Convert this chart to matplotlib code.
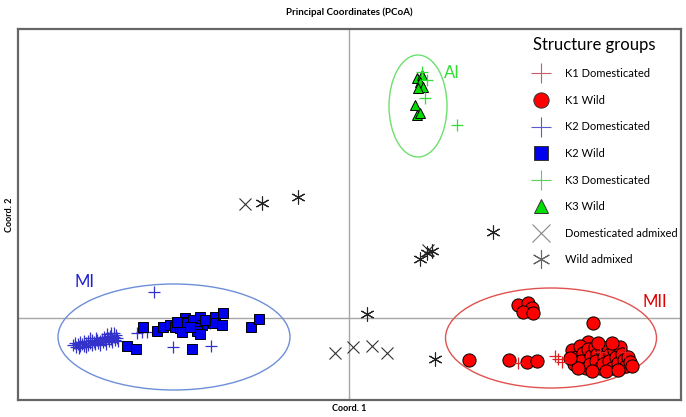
import matplotlib
matplotlib.use("Agg")
import matplotlib.pyplot as plt
from matplotlib.lines import Line2D
from matplotlib.patches import Ellipse

plt.rcParams['font.family'] = ['Lato', 'DejaVu Sans']

# ---- data (Coord. 1, Coord. 2) ----
k2_wild_x = [-2.06, -1.92, -2.22, -2.13, -1.86, -1.79, -1.74, -1.69, -1.64, -1.61, -1.56, -1.49, -1.47,
             -1.52, -1.66, -1.67, -1.52, -1.49, -1.57, -1.34, -1.26, -1.36, -1.27, -0.98, -0.90, -1.72,
             -1.59, -1.44]
k2_wild_y = [-0.09, -0.13, -0.28, -0.31, -0.09, -0.07, -0.09, -0.10, 0.00, -0.04, -0.02, 0.01, -0.07,
             -0.10, -0.05, -0.14, -0.13, -0.16, -0.31, 0.01, 0.05, -0.05, -0.07, -0.09, -0.01, -0.04,
             -0.09, -0.02]

k2_dom_x = [-1.95, -1.76, -1.38, -2.12, -2.07, -2.02, -1.39,
            -2.76, -2.74, -2.73, -2.71, -2.69, -2.69, -2.67, -2.65, -2.65, -2.63, -2.61, -2.61, -2.59,
            -2.57, -2.57, -2.55, -2.54, -2.52, -2.51, -2.49, -2.49, -2.47, -2.46, -2.44, -2.43, -2.41,
            -2.40, -2.39, -2.38, -2.37, -2.35, -2.34, -2.33, -2.32, -2.31, -2.42, -2.38, -2.35, -2.45,
            -2.53, -2.59, -2.63, -2.70]
k2_dom_y = [0.26, -0.29, -0.28, -0.15, -0.14, -0.14, -0.05,
            -0.27, -0.25, -0.29, -0.26, -0.24, -0.28, -0.26, -0.23, -0.28, -0.25, -0.27, -0.23, -0.25,
            -0.22, -0.27, -0.24, -0.26, -0.22, -0.25, -0.23, -0.27, -0.21, -0.24, -0.22, -0.26, -0.20,
            -0.23, -0.18, -0.21, -0.24, -0.19, -0.22, -0.17, -0.20, -0.23, -0.16, -0.15, -0.15, -0.19,
            -0.20, -0.20, -0.29, -0.30]

k1_wild_x = [1.69, 1.79, 1.83, 1.74, 1.84, 2.44, 1.20, 1.60, 1.78, 1.88, 2.39,
             2.23, 2.27, 2.25, 2.31, 2.34, 2.32, 2.37, 2.39, 2.42, 2.41, 2.46, 2.48, 2.47, 2.51,
             2.53, 2.55, 2.54, 2.59, 2.61, 2.60, 2.63, 2.65, 2.67, 2.69, 2.71, 2.73, 2.75, 2.77,
             2.79, 2.81, 2.83, 2.29, 2.43, 2.57, 2.69, 2.49, 2.63, 2.21]
k1_wild_y = [0.13, 0.15, 0.10, 0.06, 0.05, -0.05, -0.42, -0.42, -0.44, -0.43, -0.24,
             -0.32, -0.39, -0.46, -0.28, -0.35, -0.43, -0.50, -0.31, -0.38, -0.46, -0.29, -0.36, -0.43, -0.50,
             -0.32, -0.39, -0.46, -0.29, -0.36, -0.43, -0.50, -0.32, -0.39, -0.45, -0.29, -0.36, -0.42, -0.48,
             -0.39, -0.44, -0.48, -0.50, -0.53, -0.53, -0.52, -0.25, -0.25, -0.40]

k1_dom_x = [1.69, 2.06, 2.09, 2.13, 2.51, 2.76]
k1_dom_y = [-0.45, -0.38, -0.41, -0.44, -0.34, -0.34]

k3_wild_x = [0.68, 0.73, 0.71, 0.74, 0.69, 0.66, 0.68, 0.71]
k3_wild_y = [2.40, 2.43, 2.36, 2.31, 2.30, 2.13, 2.03, 2.05]

k3_dom_x = [0.76, 1.08, 0.73, 0.78]
k3_dom_y = [2.20, 1.93, 2.46, 2.38]

dom_adm_x = [-1.04, -0.14, 0.04, 0.23, 0.38, 0.79]
dom_adm_y = [1.14, -0.35, -0.29, -0.28, -0.35, 0.68]

wild_adm_x = [-0.87, -0.51, 1.44, 0.18, 0.86, 0.71, 0.78, 0.83]
wild_adm_y = [1.15, 1.21, 0.86, 0.04, -0.41, 0.59, 0.65, 0.67]

# group ellipses: label, center x, center y, width, height
group_names = ['MI', 'MII', 'AI']
group_cx = [-1.75, 2.02, 0.69]
group_cy = [-0.19, -0.20, 2.12]
group_w = [2.32, 2.11, 0.58]
group_h = [1.06, 1.00, 1.02]
group_label_x = [-2.64, 3.06, 1.03]
group_label_y = [0.36, 0.16, 2.45]

legend_labels = ['K1 Domesticated', 'K1 Wild', 'K2 Domesticated', 'K2 Wild',
                 'K3 Domesticated', 'K3 Wild', 'Domesticated admixed', 'Wild admixed']

# ---- figure ----
fig = plt.figure(figsize=(6.86, 4.17), dpi=100)
ax = fig.add_axes([18/686, 1-400/417, 663/686, 371/417])
ax.set_xlim(-3.31, 3.32)
ax.set_ylim(-0.82, 2.89)
ax.set_xticks([])
ax.set_yticks([])
for s in ax.spines.values():
    s.set_color('#666666')
    s.set_linewidth(1.6)

ax.axhline(0, color='#a6a6a6', lw=1.0, zorder=1)
ax.axvline(0, color='#a6a6a6', lw=1.0, zorder=1)

ell_colors = ['#6d8fd8', '#e0524f', '#6ee06e']
lab_colors = ['#2020d0', '#e00000', '#33dd33']
for i in range(3):
    ax.add_patch(Ellipse((group_cx[i], group_cy[i]), group_w[i], group_h[i],
                         fill=False, edgecolor=ell_colors[i], lw=1.0, zorder=2))
    ax.text(group_label_x[i], group_label_y[i], group_names[i], color=lab_colors[i],
            fontsize=12, ha='center', va='center')

blue = '#0000ee'
red = '#ff0000'
green = '#00dd00'

ax.plot(k2_dom_x, k2_dom_y, '+', color='#3333cc', ms=9, mew=0.9, ls='none', zorder=3)
ax.plot(k2_wild_x, k2_wild_y, 's', mfc=blue, mec='black', mew=0.7, ms=7.5, ls='none', zorder=4)
ax.plot(k1_wild_x, k1_wild_y, 'o', mfc=red, mec='black', mew=0.7, ms=9.5, ls='none', zorder=4)
ax.plot(k1_dom_x, k1_dom_y, '+', color='#e02020', ms=9, mew=0.9, ls='none', zorder=5)
ax.plot(k3_wild_x, k3_wild_y, '^', mfc=green, mec='black', mew=0.7, ms=7.5, ls='none', zorder=4)
ax.plot(k3_dom_x, k3_dom_y, '+', color='#33dd33', ms=9, mew=0.9, ls='none', zorder=5)
ax.plot(dom_adm_x, dom_adm_y, 'x', color='#333333', ms=9, mew=0.8, ls='none', zorder=4)
ax.plot(wild_adm_x, wild_adm_y, marker=(6, 2, 0), color='#222222', ms=10, mew=0.8, ls='none', zorder=4)

# ---- legend ----
handles = [
    Line2D([], [], marker='+', color='#c85a6a', ms=14, mew=0.8, ls='none'),
    Line2D([], [], marker='o', mfc=red, mec='#333333', mew=0.7, ms=11, ls='none'),
    Line2D([], [], marker='+', color='#5a5ad0', ms=14, mew=0.8, ls='none'),
    Line2D([], [], marker='s', mfc=blue, mec='#333333', mew=0.7, ms=10, ls='none'),
    Line2D([], [], marker='+', color='#5ad05a', ms=14, mew=0.8, ls='none'),
    Line2D([], [], marker='^', mfc=green, mec='#333333', mew=0.7, ms=10, ls='none'),
    Line2D([], [], marker='x', color='#888888', ms=13, mew=0.8, ls='none'),
    Line2D([], [], marker=(6, 2, 0), color='#666666', ms=13, mew=0.8, ls='none'),
]
leg = ax.legend(handles, legend_labels, title='Structure groups', loc='upper left',
                bbox_to_anchor=(0.765, 1.0), frameon=False, fontsize=8,
                title_fontsize=12, labelspacing=1.4, handletextpad=1.4,
                handlelength=1.5, borderaxespad=0.3, alignment='left')

ax.set_title('Principal Coordinates (PCoA)', fontsize=7, fontweight='bold', pad=10)
ax.set_xlabel('Coord. 1', fontsize=6.5, fontweight='bold', labelpad=3)
ax.set_ylabel('Coord. 2', fontsize=6.5, fontweight='bold', labelpad=3)

fig.savefig('out.png', dpi=100)
